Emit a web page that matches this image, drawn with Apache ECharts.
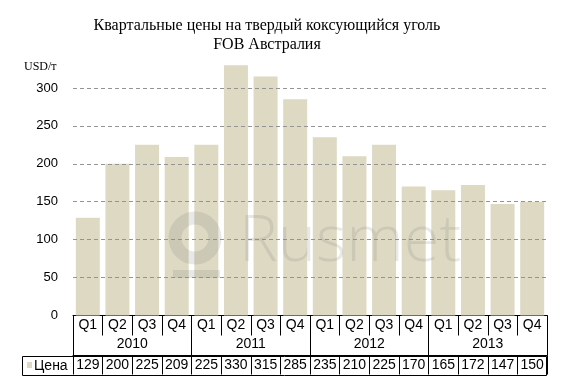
<!DOCTYPE html>
<html>
<head>
<meta charset="utf-8">
<script src="https://cdn.jsdelivr.net/npm/echarts@6/dist/echarts.min.js"></script>
<style>html,body{margin:0;padding:0;background:#fff}#c{width:574px;height:389px}</style>
</head>
<body>
<div id="c"></div>
<script>
const quarters = ['Q1','Q2','Q3','Q4','Q1','Q2','Q3','Q4','Q1','Q2','Q3','Q4','Q1','Q2','Q3','Q4'];
const years = ['2010','2011','2012','2013'];
const prices = [129,200,225,209,225,330,315,285,235,210,225,170,165,172,147,150];
const gridValues = [50,100,150,200,250,300];
const seriesName = 'Цена';

const barColor = '#DDD9C3';
const font = 'Liberation Sans, Arial, sans-serif';
const wm = 'rgba(120,120,120,0.17)';
const chart = echarts.init(document.getElementById('c'));
chart.setOption({
  animation: false,
  title: {
    text: 'Квартальные цены на твердый коксующийся уголь\nFOB Австралия',
    left: 262, top: 11, textAlign: 'center',
    textStyle: {fontFamily: 'Liberation Serif, serif', fontSize: 16, fontWeight: 'normal', color: '#000', lineHeight: 19}
  },
  grid: {left: 73, right: 27, top: 50, bottom: 73.5, containLabel: false},
  xAxis: [
    {type: 'category', data: quarters, position: 'bottom',
     axisLine: {show: true, lineStyle: {color: '#000', width: 1}},
     axisTick: {show: true, interval: 0, length: 20, lineStyle: {color: '#000'}},
     axisLabel: {interval: 0, margin: 3, fontSize: 14, color: '#000', fontFamily: font}},
    {type: 'category', data: years, position: 'bottom',
     axisLine: {show: false},
     axisTick: {show: true, interval: 0, length: 40, lineStyle: {color: '#000'}},
     axisLabel: {interval: 0, margin: 22, fontSize: 14, color: '#000', fontFamily: font}},
    {type: 'category', data: prices.map(String), position: 'bottom', offset: 40,
     axisLine: {show: true, lineStyle: {color: '#000', width: 1}},
     axisTick: {show: true, interval: 0, length: 19, lineStyle: {color: '#000'}},
     axisLabel: {interval: 0, margin: 3, fontSize: 14, color: '#000', fontFamily: font}}
  ],
  yAxis: {type: 'value', min: 0, max: 350, interval: 50,
    axisLine: {show: false}, axisTick: {show: false}, splitLine: {show: false},
    axisLabel: {margin: 15, fontSize: 13, color: '#000', fontFamily: font, showMaxLabel: false}},
  series: [{
    name: seriesName, type: 'bar', data: prices, xAxisIndex: 0,
    barCategoryGap: '19%', itemStyle: {color: barColor},
    markLine: {silent: true, symbol: 'none', label: {show: false},
      lineStyle: {color: '#949494', type: [4, 3], width: 1},
      data: gridValues.map(v => ({yAxis: v}))}
  }],
  graphic: [
    {type: 'text', left: 24, top: 61, style: {text: 'USD/т', font: '12px Liberation Serif, serif', fill: '#000'}},
    {type: 'rect', shape: {x: 22.5, y: 356.5, width: 524, height: 19}, style: {fill: 'none', stroke: '#000', lineWidth: 1}},
    {type: 'rect', shape: {x: 27, y: 362, width: 5, height: 6}, style: {fill: barColor}},
    {type: 'text', x: 34, y: 366.5, style: {text: seriesName, font: '14px Liberation Sans, Arial', fill: '#000', verticalAlign: 'middle'}},
    {type: 'circle', z: 100, silent: true, shape: {cx: 195, cy: 238, r: 20}, style: {fill: 'none', stroke: wm, lineWidth: 13}},
    {type: 'rect', z: 100, silent: true, shape: {x: 173, y: 270, width: 47, height: 8}, style: {fill: wm}},
    {type: 'text', z: 100, silent: true, x: 239, y: 210, style: {text: 'Rusmet', fontSize: 65, fontFamily: 'Open Sans', fontWeight: 300, fill: wm}}
  ]
});
</script>
</body>
</html>
